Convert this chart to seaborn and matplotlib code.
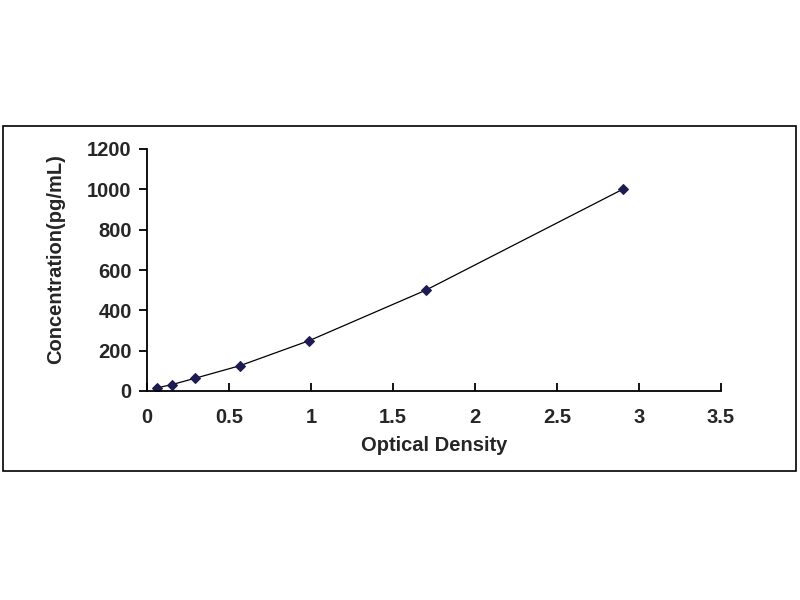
import numpy as np
import pandas as pd
import seaborn as sns
import matplotlib.pyplot as plt
from matplotlib.patches import Rectangle

# standard curve values
optical_density = [0.06, 0.15, 0.29, 0.565, 0.99, 1.70, 2.90]
concentration = [15.6, 31.2, 62.5, 125, 250, 500, 1000]
x_ticks = [0, 0.5, 1, 1.5, 2, 2.5, 3, 3.5]
y_ticks = [0, 200, 400, 600, 800, 1000, 1200]

df = pd.DataFrame({"od": optical_density, "conc": concentration})

sns.set_theme(style="white")
plt.rcParams['font.family'] = ['Liberation Sans', 'DejaVu Sans']

fig = plt.figure(figsize=(8, 6), dpi=100)
ax = fig.add_axes([147 / 800, 1 - 391 / 600, (721 - 147) / 800, (391 - 149) / 600])

# outer frame around the chart
fig.patches.append(Rectangle((3 / 800, 1 - 471 / 600), 793 / 800, 345 / 600,
                             transform=fig.transFigure, fill=False,
                             edgecolor="black", linewidth=1.2))

sns.lineplot(data=df, x="od", y="conc", ax=ax, color="black", linewidth=0.9,
             marker="D", markersize=5.5, markerfacecolor="#1c1c52",
             markeredgecolor="#1c1c52")

ax.set_xlim(0, 3.5)
ax.set_ylim(0, 1200)
ax.set_xticks(x_ticks)
ax.set_xticklabels([f"{t:g}" for t in x_ticks])
ax.set_yticks(y_ticks)
ax.set_yticklabels([str(t) for t in y_ticks])
sns.despine(ax=ax)
for s in ("left", "bottom"):
    ax.spines[s].set_color("black")
    ax.spines[s].set_linewidth(1.3)

ax.tick_params(axis="x", direction="in", length=6, width=1.3, color="black",
               labelsize=14.5, pad=12, bottom=True)
ax.tick_params(axis="y", direction="out", length=6, width=1.3, color="black",
               labelsize=14.5, pad=5, left=True)
for lbl in ax.get_xticklabels() + ax.get_yticklabels():
    lbl.set_fontweight("bold")

ax.set_xlabel("Optical Density", fontsize=14.5, fontweight="bold", labelpad=7)
ax.set_ylabel("Concentration(pg/mL)", fontsize=14.5, fontweight="bold")
ax.yaxis.set_label_coords(-0.142, 0.545)
ax.grid(False)

fig.savefig("out.png", dpi=100)
